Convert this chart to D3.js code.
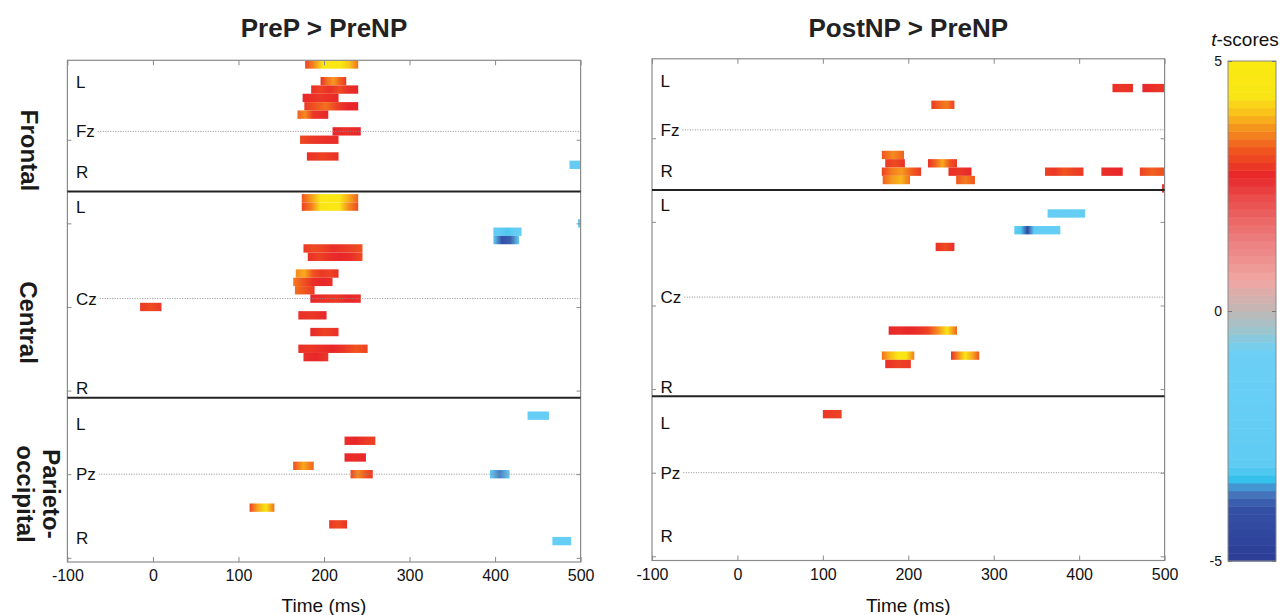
<!DOCTYPE html>
<html>
<head>
<meta charset="utf-8">
<script src="https://cdn.jsdelivr.net/npm/d3@7"></script>
<style>
  body { margin: 0; background: #fff; }
  text { font-family: "Liberation Sans", Arial, sans-serif; }
</style>
</head>
<body>
<script>
//time axis ticks (ms)
var timeTicks = [-100, 0, 100, 200, 300, 400, 500];
var channelTicks = [10, 20, 30, 40, 50, 60];

var panelTitles = ["PreP > PreNP", "PostNP > PreNP"];
var regionNames = [["Frontal"], ["Central"], ["Parieto-", "occipital"]];
//channel rows where one region ends and the next starts
var regionBounds = [16.2, 40.87];

//electrode labels and the channel row they sit on
var chanLabels = ["L", "Fz", "R", "L", "Cz", "R", "L", "Pz", "R"];
var chanRows = [3.1, 9, 13.9, 18, 29, 39.7, 44, 50, 57.6];

//colour bar
var cbTicks = [-5, 0, 5];
var cmapT = [-5, -3.9, -3.6, -3.35, -3.1, -2.0, -0.8, -0.4, 0, 0.6, 1.5, 2.3, 2.7, 3.2, 3.6, 3.95, 4.3, 5];
var cmapColors = ["#2c3c96", "#3552a6", "#4a7fc2", "#35c4ee", "#5fcbf2", "#66cef5", "#6ccff5", "#9ac6cf",
                  "#c1b7b5", "#efa7a3", "#ec7a7a", "#e94a48", "#e8262a", "#f0541f", "#f58a1f", "#f8c01a",
                  "#f9e516", "#fbe912"];

//significant clusters: [channel row, start ms, end ms, t-scores along the run]
var prepBars = [
    [1, 178, 240, [3.0, 3.6, 4.4, 4.7, 4.6, 4.0, 3.4]],
    [3, 196, 226, [2.8, 3.4, 3.7, 3.3, 2.9]],
    [4, 185, 240, [2.8, 3.0, 2.8, 3.1, 2.8, 2.7]],
    [5, 175, 217, [2.7, 2.8, 2.9, 2.8, 2.7]],
    [6, 177, 240, [2.9, 3.2, 3.4, 3.0, 2.7, 2.7]],
    [7, 169, 205, [3.3, 3.6, 2.9, 2.8, 2.7]],
    [9, 210, 243, [2.7, 2.8, 2.7]],
    [10, 172, 217, [3.1, 2.9, 2.8, 2.8]],
    [12, 180, 217, [2.8, 3.0, 2.8]],
    [13, 487, 500, [-2.2]],
    [17, 174, 240, [3.2, 3.7, 4.4, 4.7, 4.5, 3.8, 3.3]],
    [18, 174, 240, [3.0, 3.5, 4.3, 4.6, 4.4, 3.6, 3.1]],
    [20, 497, 500, [-2.2]],
    [21, 398, 431, [-2.3, -3.0, -3.2, -2.3, -2.1]],
    [22, 398, 428, [-2.4, -4.0, -3.8, -2.4]],
    [23, 176, 245, [2.9, 3.1, 3.0, 2.8, 2.9, 3.0, 3.2]],
    [24, 181, 245, [2.8, 3.0, 2.8, 2.7, 2.8, 3.1]],
    [26, 167, 217, [3.6, 3.8, 3.2, 2.9, 3.0, 2.8]],
    [27, 164, 210, [3.5, 3.2, 2.8, 2.7, 2.8]],
    [28, 166, 189, [3.4, 3.2, 2.9]],
    [29, 184, 243, [2.7, 2.8, 2.9, 2.7, 2.8]],
    [30, -15, 10, [2.9, 3.1, 2.9]],
    [31, 170, 203, [2.8, 2.9, 2.7]],
    [33, 184, 217, [2.7, 3.0, 2.8]],
    [35, 170, 251, [2.8, 2.9, 2.8, 2.7, 2.9, 3.2, 3.0]],
    [36, 176, 205, [2.8, 2.7, 2.9]],
    [43, 438, 463, [-2.0, -2.0]],
    [46, 224, 260, [2.8, 2.7, 2.9, 3.0]],
    [48, 224, 249, [2.7, 2.8, 2.7]],
    [49, 164, 188, [3.1, 3.8, 3.3]],
    [50, 231, 257, [3.0, 3.6, 3.2, 2.9]],
    [50, 394, 417, [-2.2, -3.6, -2.3]],
    [54, 113, 142, [3.0, 3.8, 4.3, 3.4]],
    [56, 206, 227, [2.9, 3.1, 2.8]],
    [58, 467, 489, [-2.0, -2.0]]
];

var postBars = [
    [4, 439, 463, [2.8, 2.9, 2.8]],
    [4, 474, 500, [2.7, 2.8, 2.9]],
    [6, 227, 254, [2.9, 3.3, 3.5, 3.0]],
    [12, 169, 195, [3.2, 3.6, 3.3]],
    [13, 173, 196, [2.9, 3.1, 2.8]],
    [13, 223, 257, [2.8, 3.3, 3.8, 3.2, 2.9]],
    [14, 169, 215, [3.0, 3.5, 3.7, 3.3, 2.9]],
    [14, 247, 274, [2.8, 2.9, 2.7]],
    [14, 360, 405, [3.0, 2.9, 3.2, 3.0, 2.9]],
    [14, 426, 451, [2.8, 2.7]],
    [14, 471, 500, [3.0, 3.3, 3.1]],
    [15, 170, 202, [3.3, 3.7, 3.9, 3.4]],
    [15, 256, 278, [3.2, 3.5, 3.2]],
    [16, 497, 500, [2.8]],
    [19, 363, 407, [-2.1, -2.2, -2.1, -2.2]],
    [21, 324, 378, [-2.3, -3.2, -4.4, -3.0, -2.4, -2.3, -2.5, -2.2]],
    [23, 232, 254, [2.8, 3.1, 2.8]],
    [33, 177, 257, [2.7, 2.8, 2.7, 2.8, 3.0, 3.6, 4.3, 3.3]],
    [36, 169, 207, [3.4, 3.9, 4.6, 4.3, 3.5]],
    [36, 250, 283, [2.8, 3.6, 4.4, 3.8, 3.2]],
    [37, 173, 203, [2.8, 3.0, 2.9]],
    [43, 100, 122, [2.9, 3.0]]
];

var width = 1288,
    height = 615;

var svg = d3.select("body")
    .append("svg")
    .attr("width", width)
    .attr("height", height);

var defs = svg.append("defs");

var color = d3.scaleLinear()
    .domain(cmapT)
    .range(cmapColors)
    .interpolate(d3.interpolateRgb)
    .clamp(true);

//plain hyphen for negative tick labels, as in the figure
var fmt = function(d){ return String(d); };

//panel frames
var panels = [
    {title: panelTitles[0], bars: prepBars, x0: 67.4, x1: 580.6, y0: 60.3, y1: 562},
    {title: panelTitles[1], bars: postBars, x0: 652, x1: 1164.6, y0: 58.8, y1: 560.5}
];

panels.forEach(function(p, pi){

    var x = d3.scaleLinear().domain([-100, 500]).range([p.x0, p.x1]);
    var y = d3.scaleLinear().domain([0.5, 60.5]).range([p.y0, p.y1]);

    var g = svg.append("g").attr("class", "panel");

    //gradient for each run of the t-map
    p.bars.forEach(function(b, bi){
        var grad = defs.append("linearGradient")
            .attr("id", "grad" + pi + "_" + bi)
            .attr("x1", "0%").attr("x2", "100%")
            .attr("y1", "0%").attr("y2", "0%");
        grad.selectAll("stop")
            .data(b[3])
            .enter()
            .append("stop")
            .attr("offset", function(d, i){
                return b[3].length == 1 ? "0%" : (i / (b[3].length - 1) * 100) + "%";
            })
            .attr("stop-color", function(d){ return color(d); });
    });

    g.selectAll(".bar")
        .data(p.bars)
        .enter()
        .append("rect")
        .attr("class", "bar")
        .attr("x", function(d){ return x(d[1]); })
        .attr("width", function(d){ return x(d[2]) - x(d[1]); })
        .attr("y", function(d){ return y(d[0] - 0.5); })
        .attr("height", function(d){ return y(d[0] + 0.5) - y(d[0] - 0.5); })
        .attr("fill", function(d, i){ return "url(#grad" + pi + "_" + i + ")"; });

    //frame
    g.append("rect")
        .attr("x", p.x0).attr("y", p.y0)
        .attr("width", p.x1 - p.x0).attr("height", p.y1 - p.y0)
        .attr("fill", "none")
        .attr("stroke", "#8a8a8a")
        .attr("stroke-width", 1.2);

    //axes with inward ticks
    var bottom = g.append("g")
        .attr("transform", "translate(0," + p.y1 + ")")
        .call(d3.axisBottom(x).tickValues(timeTicks).tickFormat(fmt).tickSize(-5).tickSizeOuter(0).tickPadding(8));
    var top = g.append("g")
        .attr("transform", "translate(0," + p.y0 + ")")
        .call(d3.axisTop(x).tickValues(timeTicks).tickSize(-5).tickSizeOuter(0).tickFormat(""));
    var left = g.append("g")
        .attr("transform", "translate(" + p.x0 + ",0)")
        .call(d3.axisLeft(y).tickValues(channelTicks).tickSize(-4).tickSizeOuter(0).tickFormat(""));
    var right = g.append("g")
        .attr("transform", "translate(" + p.x1 + ",0)")
        .call(d3.axisRight(y).tickValues(channelTicks).tickSize(-4).tickSizeOuter(0).tickFormat(""));

    [bottom, top, left, right].forEach(function(a){
        a.select(".domain").remove();
        a.selectAll("line").attr("stroke", "#8a8a8a");
    });
    bottom.selectAll("text")
        .attr("font-size", 16)
        .attr("fill", "#111");

    //region dividers
    g.selectAll(".divider")
        .data(regionBounds)
        .enter()
        .append("line")
        .attr("class", "divider")
        .attr("x1", p.x0).attr("x2", p.x1)
        .attr("y1", function(d){ return y(d); })
        .attr("y2", function(d){ return y(d); })
        .attr("stroke", "#222")
        .attr("stroke-width", 2);

    //electrode labels and midline dotted lines
    chanLabels.forEach(function(lab, i){
        var t = g.append("text")
            .attr("x", p.x0 + 8.5)
            .attr("y", y(chanRows[i]))
            .attr("dy", "0.36em")
            .attr("font-size", 17)
            .attr("fill", "#111")
            .text(lab);
        if (lab.indexOf("z") > 0) {
            var end = p.x0 + 8.5 + t.node().getComputedTextLength();
            g.append("line")
                .attr("x1", end + 3).attr("x2", p.x1)
                .attr("y1", y(chanRows[i])).attr("y2", y(chanRows[i]))
                .attr("stroke", "#8f8f8f")
                .attr("stroke-width", 1)
                .attr("stroke-dasharray", "1,1.5");
        }
    });

    //titles
    g.append("text")
        .attr("x", (p.x0 + p.x1) / 2)
        .attr("y", 37)
        .attr("text-anchor", "middle")
        .attr("font-size", 26)
        .attr("font-weight", "bold")
        .attr("fill", "#222")
        .text(p.title);

    g.append("text")
        .attr("x", (p.x0 + p.x1) / 2)
        .attr("y", 612)
        .attr("text-anchor", "middle")
        .attr("font-size", 19)
        .attr("fill", "#111")
        .text("Time (ms)");

    //region names down the left side
    if (pi == 0) {
        var ly = [150.5, 322.5, 494];
        var lx = [29.5, 29, 38.3];
        regionNames.forEach(function(lines, ri){
            var t = svg.append("text")
                .attr("transform", "translate(" + lx[ri] + "," + ly[ri] + ") rotate(90)")
                .attr("text-anchor", "middle")
                .attr("font-size", 24)
                .attr("font-weight", "bold")
                .attr("fill", "#1a1a1a");
            lines.forEach(function(s, li){
                t.append("tspan")
                    .attr("x", 0)
                    .attr("y", (li - (lines.length - 1) / 2) * 26)
                    .attr("dy", "0.36em")
                    .text(s);
            });
        });
    }
});

//colour bar
var cbX0 = 1228,
    cbX1 = 1276;
var cb = d3.scaleLinear().domain([-5, 5]).range([561, 61]);
var nBands = 64;
var bands = d3.range(nBands).map(function(i){
    return {lo: -5 + i * 10 / nBands, hi: -5 + (i + 1) * 10 / nBands};
});

svg.append("g").selectAll("rect")
    .data(bands)
    .enter()
    .append("rect")
    .attr("x", cbX0)
    .attr("width", cbX1 - cbX0)
    .attr("y", function(d){ return cb(d.hi); })
    .attr("height", function(d){ return cb(d.lo) - cb(d.hi) + 0.5; })
    .attr("fill", function(d){ return color((d.lo + d.hi) / 2); });

svg.append("rect")
    .attr("x", cbX0).attr("y", cb(5))
    .attr("width", cbX1 - cbX0).attr("height", cb(-5) - cb(5))
    .attr("fill", "none")
    .attr("stroke", "#8a8a8a");

var cbAxis = svg.append("g")
    .attr("transform", "translate(" + cbX0 + ",0)")
    .call(d3.axisLeft(cb).tickValues(cbTicks).tickFormat(fmt).tickSize(-4).tickSizeOuter(0).tickPadding(6));
cbAxis.select(".domain").remove();
cbAxis.selectAll("line").attr("stroke", "#777");
cbAxis.selectAll("text").attr("font-size", 14).attr("fill", "#111");

var cbAxisR = svg.append("g")
    .attr("transform", "translate(" + cbX1 + ",0)")
    .call(d3.axisRight(cb).tickValues(cbTicks).tickSize(-4).tickSizeOuter(0).tickFormat(""));
cbAxisR.select(".domain").remove();
cbAxisR.selectAll("line").attr("stroke", "#777");

var cbTitle = svg.append("text")
    .attr("x", 1245)
    .attr("y", 46)
    .attr("text-anchor", "middle")
    .attr("font-size", 19)
    .attr("fill", "#111");
cbTitle.append("tspan").attr("font-style", "italic").text("t");
cbTitle.append("tspan").text("-scores");
</script>
</body>
</html>
